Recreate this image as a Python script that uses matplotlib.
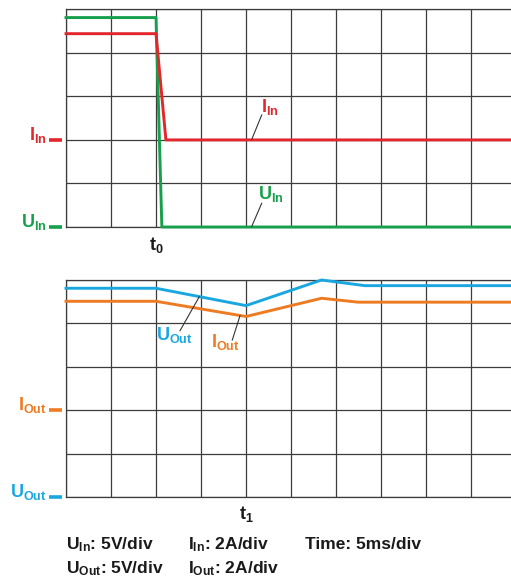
import matplotlib
matplotlib.use("Agg")
import matplotlib.pyplot as plt

plt.rcParams['font.family'] = ['Liberation Sans', 'DejaVu Sans']
plt.rcParams['mathtext.fontset'] = 'custom'
plt.rcParams['mathtext.rm'] = 'Liberation Sans:bold'
plt.rcParams['mathtext.bf'] = 'Liberation Sans:bold'
plt.rcParams['mathtext.it'] = 'Liberation Sans:bold'

# ---- data (x in time divisions, 5 ms/div; y in screen divisions) ----
uin_t = [0, 2.0, 2.13, 10]
uin_v = [4.81, 4.81, 0.0, 0.0]
iin_t = [0, 2.0, 2.22, 10]
iin_v = [4.44, 4.44, 2.0, 2.0]

uout_t = [0, 2.0, 4.0, 5.68, 6.64, 10]
uout_v = [4.81, 4.81, 4.41, 5.0, 4.87, 4.87]
iout_t = [0, 2.0, 4.0, 5.68, 6.49, 10]
iout_v = [4.51, 4.51, 4.16, 4.58, 4.49, 4.49]

iin_ref, uin_ref = 2.0, 0.0
iout_ref, uout_ref = 2.0, 0.0
t0, t1 = 2.0, 4.0

RED = '#e3262c'
GREEN = '#17a04b'
BLUE = '#1aa7e0'
ORANGE = '#ee7b22'
GRID = '#3c3c3c'

W, H = 511, 580
fig = plt.figure(figsize=(W / 100, H / 100), dpi=100)

def px_axes(x0, y0, x1, y1):
    return fig.add_axes([x0 / W, 1 - y1 / H, (x1 - x0) / W, (y1 - y0) / H])

ax1 = px_axes(66, 9.3, 516, 227)
ax2 = px_axes(66, 280, 516, 497.3)

for ax in (ax1, ax2):
    ax.set_xlim(0, 10)
    ax.set_ylim(0, 5)
    ax.set_xticks(range(11))
    ax.set_yticks(range(6))
    ax.tick_params(length=0, labelbottom=False, labelleft=False)
    ax.grid(True, color=GRID, lw=0.9)
    for s in ax.spines.values():
        s.set_color(GRID)
        s.set_linewidth(0.9)
    ax.set_axisbelow(True)

LW = 2.1
ax1.plot(uin_t, uin_v, color=GREEN, lw=LW, zorder=3, clip_on=False)
ax1.plot(iin_t, iin_v, color=RED, lw=LW, zorder=4, clip_on=False)
ax2.plot(uout_t, uout_v, color=BLUE, lw=LW, zorder=3, clip_on=False)
ax2.plot(iout_t, iout_v, color=ORANGE, lw=LW, zorder=4, clip_on=False)

FS = 13

def side_label(ax, y, txt, color):
    ax.plot([-0.38, -0.09], [y, y], color=color, lw=2.6, clip_on=False,
            solid_capstyle='butt')
    ax.text(-0.43, y, txt, color=color, fontsize=FS, fontweight='bold',
            ha='right', va='baseline', clip_on=False)

side_label(ax1, iin_ref, r'$\mathrm{I}_{\mathrm{In}}$', RED)
side_label(ax1, uin_ref, r'$\mathrm{U}_{\mathrm{In}}$', GREEN)
side_label(ax2, iout_ref, r'$\mathrm{I}_{\mathrm{Out}}$', ORANGE)
side_label(ax2, uout_ref, r'$\mathrm{U}_{\mathrm{Out}}$', BLUE)

def px2data(ax, x, y, top, bottom):
    return ((x - 66) / 45.0, (bottom - y) / ((bottom - top) / 5.0))

def leader(ax, top, bottom, p0, p1, tpos, txt, color, ha='left'):
    a = px2data(ax, *p0, top, bottom)
    b = px2data(ax, *p1, top, bottom)
    ax.plot([a[0], b[0]], [a[1], b[1]], color='#333333', lw=0.8, zorder=5,
            clip_on=False)
    tp = px2data(ax, *tpos, top, bottom)
    ax.text(tp[0], tp[1], txt, color=color, fontsize=FS, fontweight='bold',
            ha=ha, va='baseline', zorder=6)

leader(ax1, 9.3, 227, (251.7, 139.5), (261.7, 115), (261, 112),
       r'$\mathrm{I}_{\mathrm{In}}$', RED)
leader(ax1, 9.3, 227, (251.7, 226.5), (261.7, 203.3), (258.5, 199.5),
       r'$\mathrm{U}_{\mathrm{In}}$', GREEN)
leader(ax2, 280, 497.3, (199.3, 296.7), (180, 330.7), (156.5, 340),
       r'$\mathrm{U}_{\mathrm{Out}}$', BLUE)
leader(ax2, 280, 497.3, (240, 315.7), (232.3, 340), (211, 347.3),
       r'$\mathrm{I}_{\mathrm{Out}}$', ORANGE)

ax1.text(t0, -0.52, r'$\mathrm{t}_{0}$', color='#1a1a1a', fontsize=FS,
         ha='center', va='baseline', clip_on=False)
ax2.text(t1, -0.50, r'$\mathrm{t}_{1}$', color='#1a1a1a', fontsize=FS,
         ha='center', va='baseline', clip_on=False)

TC = '#1a1a1a'
def ftext(x, y, s):
    fig.text(x / W, 1 - y / H, s, color=TC, fontsize=12.5, fontweight='bold',
             ha='left', va='baseline')

ftext(66.5, 549, r'$\mathrm{U}_{\mathrm{In}}$: 5V/div')
ftext(188, 549, r'$\mathrm{I}_{\mathrm{In}}$: 2A/div')
ftext(305, 549, 'Time: 5ms/div')
ftext(66.5, 573, r'$\mathrm{U}_{\mathrm{Out}}$: 5V/div')
ftext(188, 573, r'$\mathrm{I}_{\mathrm{Out}}$: 2A/div')

fig.savefig('out.png', dpi=100)
